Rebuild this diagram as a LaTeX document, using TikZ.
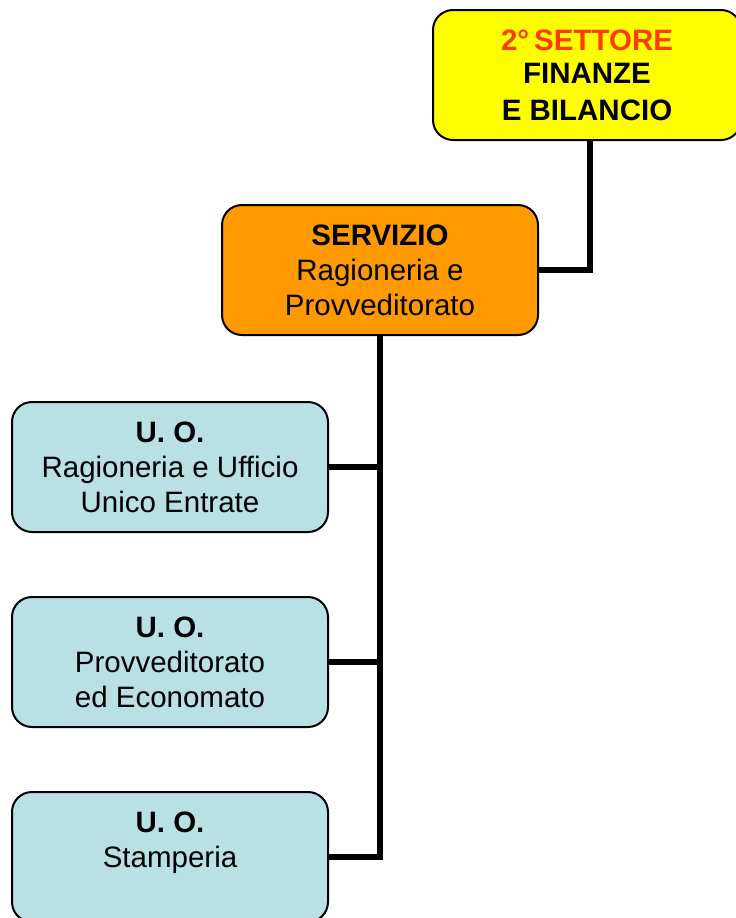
\documentclass[tikz,border=0pt]{standalone}
\usepackage{fontspec}
\setmainfont{Liberation Sans}
\definecolor{ybox}{HTML}{FFFF00}
\definecolor{obox}{HTML}{FF9900}
\definecolor{bbox}{HTML}{B9E0E3}
\definecolor{redt}{HTML}{FF3B00}
\begin{document}
\begin{tikzpicture}[x=1pt,y=-1pt,
  box/.style={draw=black,line width=2pt,rounded corners=20pt,align=center,
    inner sep=0pt,font=\fontsize{29.5}{35}\selectfont},
  conn/.style={line width=6pt,draw=black}]
\useasboundingbox (0,0) rectangle (736,918);
\node[box,fill=ybox,minimum width=308pt,minimum height=130pt] (Y) at (587,75)
  {\raisebox{-2pt}{\textbf{\textcolor{redt}{2°\,SETTORE}}}\\\textbf{FINANZE}\\\raisebox{-2pt}{\textbf{E BILANCIO}}};
\node[box,fill=obox,minimum width=316pt,minimum height=130pt] (O) at (380,270)
  {\textbf{SERVIZIO}\\Ragioneria e\\Provveditorato};
\node[box,fill=bbox,minimum width=316pt,minimum height=130pt] (B1) at (170,467)
  {\textbf{U. O.}\\Ragioneria e Ufficio\\Unico Entrate};
\node[box,fill=bbox,minimum width=316pt,minimum height=130pt] (B2) at (170,662)
  {\textbf{U. O.}\\Provveditorato\\ed Economato};
\node[box,fill=bbox,minimum width=316pt,minimum height=130pt] (B3) at (170,857)
  {\textbf{U. O.}\\Stamperia\\\mbox{}};
\coordinate (j1) at (590,270);
\draw[conn] (Y.south -| j1) -- (j1) -- (O.east);
\draw[conn] (O.south) |- (B3.east);
\draw[conn] (B1.east) -- (B1.east -| O.south);
\draw[conn] (B2.east) -- (B2.east -| O.south);
\end{tikzpicture}
\end{document}
